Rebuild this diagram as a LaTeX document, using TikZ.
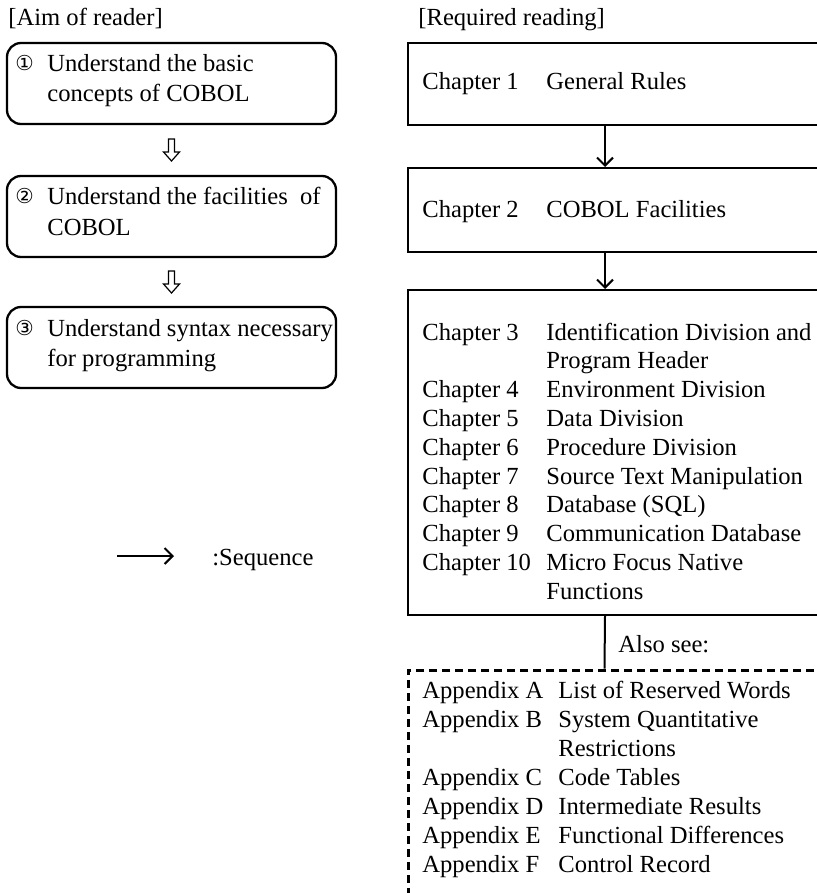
\documentclass[tikz,border=0pt]{standalone}
\usepackage{fontspec}
\setmainfont{Liberation Serif}
\newfontfamily\circfont{DejaVu Sans}
\usetikzlibrary{arrows.meta,fit,calc}
\begin{document}
\begin{tikzpicture}[x=0.5pt,y=-0.5pt,
  txt/.style={anchor=base west, inner sep=0pt, font=\fontsize{12.3pt}{14.4pt}\selectfont},
  circnum/.style={anchor=base west, inner sep=0pt, font=\circfont\fontsize{10.3pt}{12pt}\selectfont},
  aimbox/.style={draw, line width=1.15pt, rounded corners=7pt, inner sep=0pt},
  readbox/.style={draw, line width=1pt, inner sep=0pt},
  alsobox/.style={draw, line width=1.5pt, dash pattern=on 4pt off 2.5pt, inner sep=0pt},
  seq/.style={line width=1pt, -{Straight Barb[length=4pt,width=8pt]}},
  hollow/.style={line width=0.6pt, line join=miter},
]
\useasboundingbox (0,0) rectangle (817,893);
\clip (0,0) rectangle (817,893);

% column headings
\node[txt] (hAim) at (8,26) {[Aim of reader]};
\node[txt] (hReq) at (418,26) {[Required reading]};

% aims of the reader
\node[aimbox, fit={(7,43) (336,124)}] (a1) {};
\node[aimbox, fit={(7,176) (336,257)}] (a2) {};
\node[aimbox, fit={(7,307) (336,388)}] (a3) {};

\node[circnum] (n1) at (15,71) {①};
\node[txt] (a1l1) at (47,72) {Understand the basic};
\node[txt] (a1l2) at (47,102) {concepts of COBOL};
\node[circnum] (n2) at (15,204) {②};
\node[txt] (a2l1) at (47,205) {Understand the facilities\ \ of};
\node[txt] (a2l2) at (47,235) {COBOL};
\node[circnum] (n3) at (15,335) {③};
\node[txt] (a3l1) at (47,336) {Understand syntax necessary};
\node[txt] (a3l2) at (47,366) {for programming};

% hollow arrows between the aims
\foreach \u/\v in {a1/a2, a2/a3}{
  \coordinate (m) at ($(\u.south)!0.5!(\v.north)$);
  \draw[hollow] ($(m)+(3,-11)$) -- ($(m)+(3,2)$) -- ($(m)+(8,2)$) -- ($(m)+(0,11)$)
    -- ($(m)+(-8,2)$) -- ($(m)+(-3,2)$) -- ($(m)+(-3,-11)$) -- cycle;
}

% required reading
\node[readbox, fit={(408,43) (850,125)}] (b1) {};
\node[readbox, fit={(408,168) (850,252)}] (b2) {};
\node[readbox, fit={(408,290) (850,615)}] (b3) {};

\node[txt] (c1) at (422,90) {Chapter 1};
\node[txt] (t1) at (546,90) {General Rules};
\node[txt] (c2) at (422,218) {Chapter 2};
\node[txt] (t2) at (546,218) {COBOL Facilities};

\foreach \c/\t [count=\i from 0] in {
  Chapter 3/Identification Division and,
  /Program Header,
  Chapter 4/Environment Division,
  Chapter 5/Data Division,
  Chapter 6/Procedure Division,
  Chapter 7/Source Text Manipulation,
  Chapter 8/Database (SQL),
  Chapter 9/Communication Database,
  Chapter 10/Micro Focus Native,
  /Functions}{
  \node[txt] (cl\i) at (422,{340+28.8*\i}) {\c};
  \node[txt] (tl\i) at (546,{340+28.8*\i}) {\t};
}

\draw[seq] ([xshift=99pt]b1.south west) -- ([xshift=99pt]b2.north west);
\draw[seq] ([xshift=99pt]b2.south west) -- ([xshift=99pt]b3.north west);

% further reading
\node[alsobox, fit={(408,670) (850,920)}] (app) {};
\draw[line width=1pt] ([xshift=99pt]b3.south west) -- ([xshift=99pt]app.north west);
\node[txt] (also) at (618,652) {Also see:};

\foreach \c/\t [count=\i from 0] in {
  Appendix A/List of Reserved Words,
  Appendix B/System Quantitative,
  /Restrictions,
  Appendix C/Code Tables,
  Appendix D/Intermediate Results,
  Appendix E/Functional Differences,
  Appendix F/Control Record}{
  \node[txt] (ap\i) at (422,{698+29*\i}) {\c};
  \node[txt] (at\i) at (558,{698+29*\i}) {\t};
}

% legend
\coordinate (legA) at (117,556);
\coordinate (legB) at (174,556);
\draw[seq] (legA) -- (legB);
\node[txt] (legT) at (212,565) {:Sequence};
\end{tikzpicture}
\end{document}
